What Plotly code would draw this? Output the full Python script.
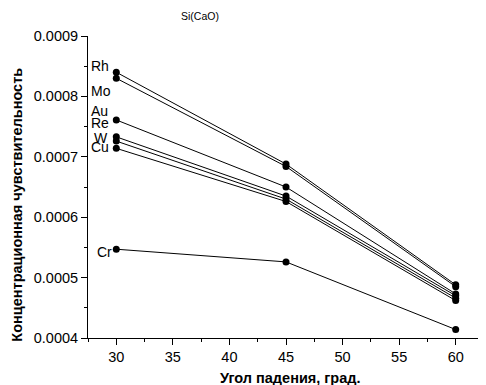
import plotly.graph_objects as go

angles = [30, 45, 60]
series_names = ["Rh", "Mo", "Au", "Re", "W", "Cu", "Cr"]
rh = [0.000840, 0.000688, 0.000488]
mo = [0.000830, 0.000684, 0.000485]
au = [0.000761, 0.000650, 0.000473]
re_ = [0.000733, 0.000635, 0.000470]
w = [0.000726, 0.000630, 0.000466]
cu = [0.000714, 0.000626, 0.000462]
cr = [0.000547, 0.000526, 0.000414]
all_series = [rh, mo, au, re_, w, cu, cr]

label_x = [27.55, 27.55, 27.55, 27.6, 27.85, 27.55, 28.1]
label_y = [0.000850, 0.000809, 0.000776, 0.000756, 0.000731, 0.000716, 0.000542]

x_ticks = [30, 35, 40, 45, 50, 55, 60]
y_ticks = [0.0004, 0.0005, 0.0006, 0.0007, 0.0008, 0.0009]
y_tick_labels = ["0.0004", "0.0005", "0.0006", "0.0007", "0.0008", "0.0009"]

FONT = "Liberation Sans, Arial"

fig = go.Figure()
for name, vals in zip(series_names, all_series):
    fig.add_trace(go.Scatter(
        x=angles, y=vals, mode="lines+markers", name=name,
        line=dict(color="black", width=1),
        marker=dict(color="black", size=7),
        showlegend=False,
    ))

for name, lx, ly in zip(series_names, label_x, label_y):
    fig.add_annotation(x=lx, y=ly, xref="x", yref="y", text=name,
                       showarrow=False, xanchor="left", yanchor="middle",
                       font=dict(family=FONT, size=14, color="black"))

fig.add_annotation(x=(200 - 88) / 396, y=1 + (36 - 16) / 302, xref="paper", yref="paper",
                   text="Si(CaO)", showarrow=False, xanchor="center", yanchor="middle",
                   font=dict(family=FONT, size=10.5, color="black"))

# axis titles
fig.add_annotation(x=-0.178, y=0.44, xref="paper", yref="paper",
                   text="<b>Концентрационная чувствительность</b>", textangle=-90,
                   showarrow=False, xanchor="center", yanchor="middle",
                   font=dict(family=FONT, size=14.5, color="black"))
fig.add_annotation(x=0.5126, y=-0.132, xref="paper", yref="paper",
                   text="<b>Угол падения, град.</b>",
                   showarrow=False, xanchor="center", yanchor="middle",
                   font=dict(family=FONT, size=14.5, color="black"))

fig.update_layout(
    width=478, height=377,
    margin=dict(l=80, r=2, t=28, b=47, autoexpand=False),
    paper_bgcolor="white", plot_bgcolor="white",
    font=dict(family=FONT, size=14, color="black"),
)

fig.update_xaxes(
    range=[27.5, 62.5], tickvals=x_ticks, ticks="outside", ticklen=6, tickwidth=1,
    tickcolor="black", showline=True, linecolor="black", linewidth=1,
    showgrid=False, zeroline=False, automargin=False,
    minor=dict(dtick=2.5, tick0=27.5, ticks="outside", ticklen=3, tickcolor="black", showgrid=False),
    tickfont=dict(size=14.5),
)
fig.update_yaxes(
    range=[0.0004, 0.0009], tickvals=y_ticks, ticktext=y_tick_labels,
    ticks="outside", ticklen=6, tickwidth=1, tickcolor="black",
    showline=True, linecolor="black", linewidth=1, showgrid=False, zeroline=False,
    automargin=False,
    minor=dict(dtick=0.00005, tick0=0.0004, ticks="outside", ticklen=3, tickcolor="black", showgrid=False),
    tickfont=dict(size=14.5),
)

fig.write_html("out.html")
